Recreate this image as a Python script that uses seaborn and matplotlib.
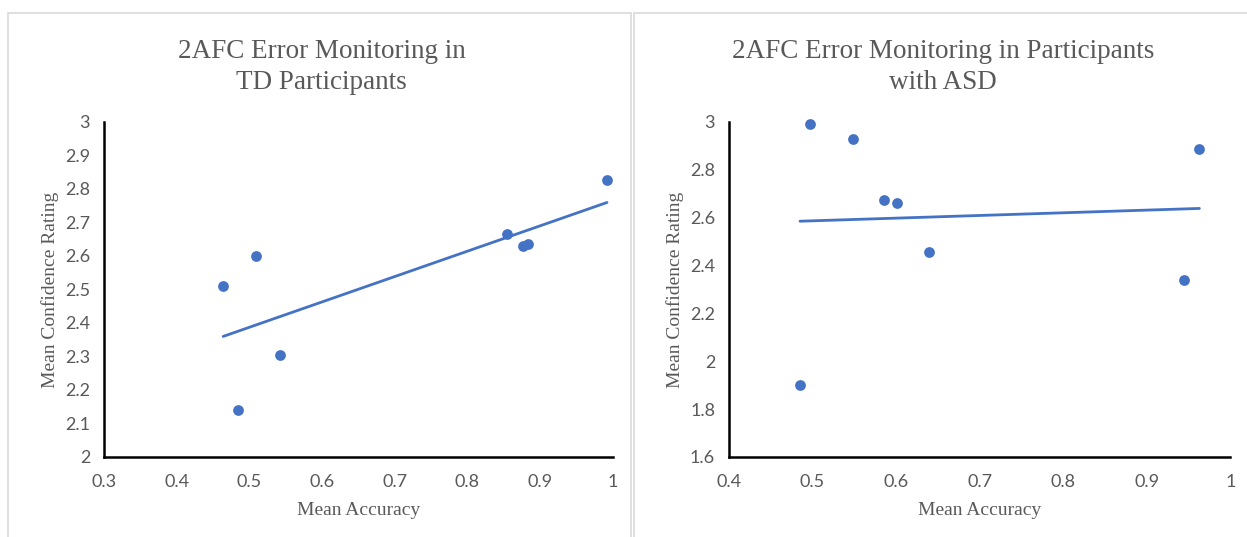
import matplotlib
matplotlib.use("Agg")
import matplotlib.pyplot as plt
import seaborn as sns
from matplotlib.patches import Rectangle

# TD participants
td_accuracy = [0.464, 0.485, 0.509, 0.542, 0.855, 0.877, 0.883, 0.992]
td_confidence = [2.51, 2.14, 2.60, 2.305, 2.665, 2.63, 2.636, 2.827]

# participants with ASD
asd_accuracy = [0.485, 0.497, 0.548, 0.585, 0.601, 0.639, 0.945, 0.963]
asd_confidence = [1.90, 2.99, 2.93, 2.675, 2.66, 2.455, 2.34, 2.885]

titles = ["2AFC Error Monitoring in\nTD Participants",
          "2AFC Error Monitoring in Participants\nwith ASD"]
x_ticks = [[0.3, 0.4, 0.5, 0.6, 0.7, 0.8, 0.9, 1],
           [0.4, 0.5, 0.6, 0.7, 0.8, 0.9, 1]]
y_ticks = [[2, 2.1, 2.2, 2.3, 2.4, 2.5, 2.6, 2.7, 2.8, 2.9, 3],
           [1.6, 1.8, 2, 2.2, 2.4, 2.6, 2.8, 3]]

sns.set_style("white")
blue = "#4472C4"
grey = "#595959"
serif = "Liberation Serif"
tickfont = "Lato"

fig = plt.figure(figsize=(12.47, 5.37), dpi=100)

# panel frames
fig.patches.append(Rectangle((0.0064, -0.01), 0.5, 0.985, transform=fig.transFigure,
                             fill=False, edgecolor="#d9d9d9", lw=1.2))
fig.patches.append(Rectangle((0.5084, -0.01), 0.5, 0.985, transform=fig.transFigure,
                             fill=False, edgecolor="#d9d9d9", lw=1.2))

axes = [fig.add_axes([0.0834, 0.149, 0.408, 0.624]),
        fig.add_axes([0.5846, 0.149, 0.402, 0.624])]
data = [(td_accuracy, td_confidence), (asd_accuracy, asd_confidence)]
title_x = [0.258, 0.756]

for i, ax in enumerate(axes):
    xs, ys = data[i]
    sns.regplot(x=xs, y=ys, ax=ax, ci=None, truncate=True, color=blue,
                scatter_kws={"s": 60, "clip_on": False, "zorder": 3,
                             "linewidths": 0, "alpha": 1},
                line_kws={"lw": 2.0})
    ax.set_xlim(x_ticks[i][0], x_ticks[i][-1])
    ax.set_ylim(y_ticks[i][0], y_ticks[i][-1])
    ax.set_xticks(x_ticks[i])
    ax.set_yticks(y_ticks[i])
    ax.set_xticklabels([f"{t:g}" for t in x_ticks[i]], fontfamily=tickfont,
                       fontsize=13, color=grey)
    ax.set_yticklabels([f"{t:g}" for t in y_ticks[i]], fontfamily=tickfont,
                       fontsize=13, color=grey)
    ax.tick_params(axis="x", length=0, pad=12)
    ax.tick_params(axis="y", length=0, pad=10)
    for s in ["top", "right"]:
        ax.spines[s].set_visible(False)
    for s in ["left", "bottom"]:
        ax.spines[s].set_color("black")
        ax.spines[s].set_linewidth(1.8)
    fig.text(title_x[i], 0.875, titles[i], fontfamily=serif, fontsize=19.5,
             color=grey, ha="center", va="center", linespacing=1.3)
    ax.set_xlabel("Mean Accuracy", fontfamily=serif, fontsize=14, color=grey,
                  labelpad=9)
    ax.set_ylabel("Mean Confidence Rating", fontfamily=serif, fontsize=14,
                  color=grey, labelpad=4)

fig.savefig("out.png", dpi=100)
